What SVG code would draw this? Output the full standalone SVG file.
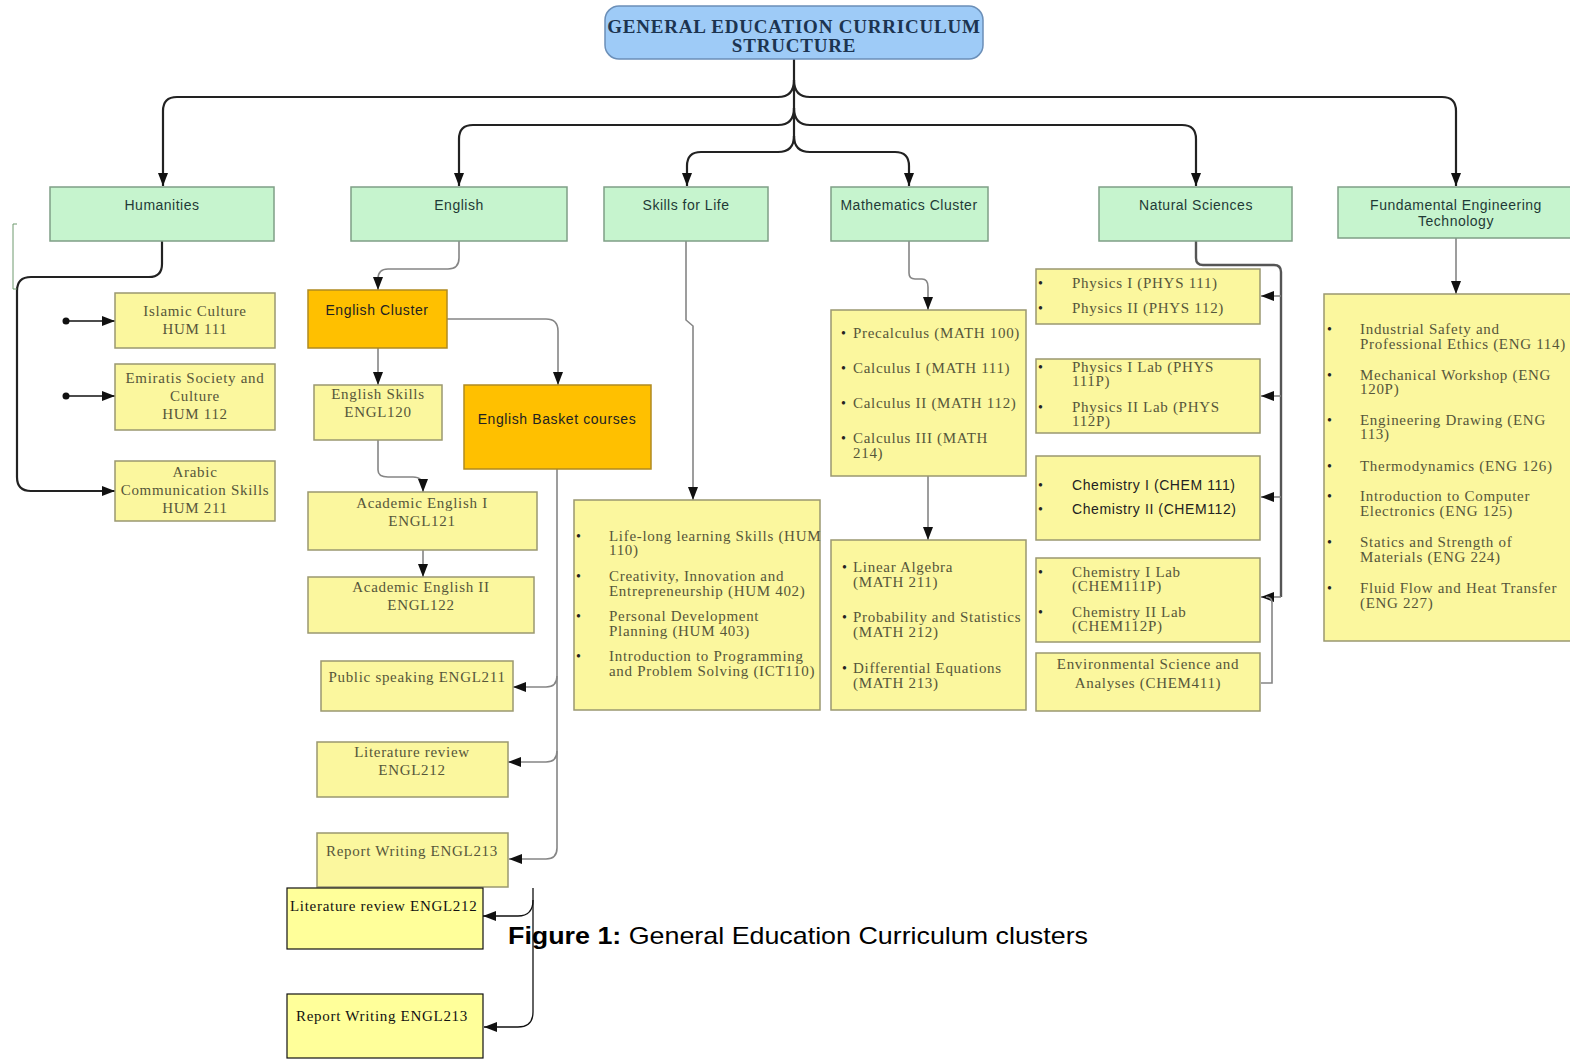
<svg xmlns="http://www.w3.org/2000/svg" width="1570" height="1059" viewBox="0 0 1570 1059">
<defs>
<marker id="ah" viewBox="0 0 13 10" refX="13" refY="5" markerWidth="13" markerHeight="10" markerUnits="userSpaceOnUse" orient="auto"><path d="M0,0 L13,5 L0,10 z" fill="#111"/></marker>
<marker id="dot" viewBox="0 0 8 8" refX="4" refY="4" markerWidth="8" markerHeight="8" markerUnits="userSpaceOnUse"><circle cx="4" cy="4" r="3.5" fill="#111"/></marker>
<style>
.grn{fill:#c6f4ce;stroke:#7f9f86;stroke-width:1.5}
.yel{fill:#fbf79e;stroke:#9a9870;stroke-width:1.5}
.yelk{fill:#ffff9a;stroke:#111;stroke-width:1.2}
.org{fill:#ffc000;stroke:#b08a20;stroke-width:1.5}
.hd{font-family:"Liberation Sans",Arial,sans-serif;font-size:14px;letter-spacing:0.5px;fill:#1f3a36;text-anchor:middle}
.sr{font-family:"Liberation Serif","Times New Roman",serif;font-size:15px;letter-spacing:0.7px;fill:#56563a}
.src{font-family:"Liberation Serif","Times New Roman",serif;font-size:15px;letter-spacing:0.7px;fill:#56563a;text-anchor:middle}
.srk{font-family:"Liberation Serif","Times New Roman",serif;font-size:15px;letter-spacing:0.7px;fill:#111}
.ss{font-family:"Liberation Sans",Arial,sans-serif;font-size:14px;letter-spacing:0.6px;fill:#222}
.bl{font-family:"Liberation Serif",serif;font-size:14px;fill:#222}
.k{fill:none;stroke:#222;stroke-width:2.2}
.g{fill:none;stroke:#858585;stroke-width:1.6}
.kt{fill:none;stroke:#111;stroke-width:1.3}
</style>
</defs>
<rect width="1570" height="1059" fill="#fff"/>

<g id="connectors">
<path class="k" d="M794,59 V140"/>
<path class="k" d="M794,80 Q794,97 778,97 H177 Q163,97 163,111 V186" marker-end="url(#ah)"/>
<path class="k" d="M794,80 Q794,97 810,97 H1442 Q1456,97 1456,111 V186" marker-end="url(#ah)"/>
<path class="k" d="M794,108 Q794,125 778,125 H473 Q459,125 459,139 V186" marker-end="url(#ah)"/>
<path class="k" d="M794,108 Q794,125 810,125 H1182 Q1196,125 1196,139 V186" marker-end="url(#ah)"/>
<path class="k" d="M794,136 Q794,152 778,152 H701 Q687,152 687,166 V186" marker-end="url(#ah)"/>
<path class="k" d="M794,136 Q794,152 810,152 H895 Q909,152 909,166 V186" marker-end="url(#ah)"/>
<!-- humanities -->
<path class="k" d="M162,241 V264 Q162,277 149,277 H31 Q17,277 17,291 V477 Q17,491 31,491 H115" marker-end="url(#ah)"/>
<path class="kt" d="M66,321 H115" marker-start="url(#dot)" marker-end="url(#ah)"/>
<path class="kt" d="M66,396 H115" marker-start="url(#dot)" marker-end="url(#ah)"/>
<path d="M13,224 V289 H17 M13,224 H17" fill="none" stroke="#6f9a6f" stroke-width="1"/>
<!-- english -->
<path class="g" d="M459,241 V258 Q459,269 448,269 H388 Q378,269 378,279 V290" marker-end="url(#ah)"/>
<path class="g" d="M378,348 V385" marker-end="url(#ah)"/>
<path class="g" d="M447,319 H546 Q558,319 558,331 V385" marker-end="url(#ah)"/>
<path class="g" d="M378,440 V470 Q378,477 388,477 H413 Q423,477 423,487 V492" marker-end="url(#ah)"/>
<path class="g" d="M423,550 V577" marker-end="url(#ah)"/>
<path class="g" d="M557,469 V848 Q557,859 546,859 H509" marker-end="url(#ah)"/>
<path class="g" d="M557,676 Q557,687 546,687 H513" marker-end="url(#ah)"/>
<path class="g" d="M557,751 Q557,762 546,762 H508" marker-end="url(#ah)"/>
<path class="kt" d="M533,888 V1012 Q533,1027 518,1027 H484" marker-end="url(#ah)"/>
<path class="kt" d="M533,900 Q533,916 518,916 H483" marker-end="url(#ah)"/>
<!-- skills -->
<path class="g" d="M686,241 V320 L693,326 V500" marker-end="url(#ah)"/>
<!-- math -->
<path class="g" d="M909,241 V273 Q909,279 915,279 H922 Q928,279 928,287 V310" marker-end="url(#ah)"/>
<path class="g" d="M928,476 V540" marker-end="url(#ah)"/>
<!-- natural sciences -->
<path d="M1196,241 V258 Q1196,265 1203,265 H1274 Q1281,265 1281,272 V597" fill="none" stroke="#555" stroke-width="2.4"/>
<path class="g" d="M1281,296 H1261" marker-end="url(#ah)"/>
<path class="g" d="M1281,396 H1261" marker-end="url(#ah)"/>
<path class="g" d="M1281,497 H1261" marker-end="url(#ah)"/>
<path class="g" d="M1281,597 H1261" marker-end="url(#ah)"/>
<path class="g" d="M1261,683 H1272 V603 Q1272,597 1266,597"/>
<!-- fet -->
<path class="g" d="M1456,238 V294" marker-end="url(#ah)"/>
</g>

<g id="title">
<rect x="605" y="6" width="378" height="53" rx="14" fill="#9ecbf7" stroke="#6b8fb8" stroke-width="1.5"/>
<text x="794" y="33" text-anchor="middle" font-family="Liberation Serif,serif" font-weight="bold" font-size="19" letter-spacing="0.8" fill="#1c3450">GENERAL EDUCATION CURRICULUM</text>
<text x="794" y="52" text-anchor="middle" font-family="Liberation Serif,serif" font-weight="bold" font-size="19" letter-spacing="0.8" fill="#1c3450">STRUCTURE</text>
</g>

<g id="humanities"><rect class="grn" x="50" y="187" width="224" height="54"/><text class="hd" x="162" y="210">Humanities</text></g>
<g id="english"><rect class="grn" x="351" y="187" width="216" height="54"/><text class="hd" x="459" y="210">English</text></g>
<g id="skills"><rect class="grn" x="604" y="187" width="164" height="54"/><text class="hd" x="686" y="210">Skills for Life</text></g>
<g id="math"><rect class="grn" x="831" y="187" width="157" height="54"/><text class="hd" x="909" y="210">Mathematics Cluster</text></g>
<g id="natsci"><rect class="grn" x="1099" y="187" width="193" height="54"/><text class="hd" x="1196" y="210">Natural Sciences</text></g>
<g id="fet"><rect class="grn" x="1338" y="187" width="240" height="51"/><text class="hd" x="1456" y="210">Fundamental Engineering</text><text class="hd" x="1456" y="226">Technology</text></g>

<g id="hum111"><rect class="yel" x="115" y="293" width="160" height="55"/><text class="src" x="195" y="316">Islamic Culture</text><text class="src" x="195" y="334">HUM 111</text></g>
<g id="hum112"><rect class="yel" x="115" y="364" width="160" height="66"/><text class="src" x="195" y="383">Emiratis Society and</text><text class="src" x="195" y="401">Culture</text><text class="src" x="195" y="419">HUM 112</text></g>
<g id="hum211"><rect class="yel" x="115" y="461" width="160" height="60"/><text class="src" x="195" y="477">Arabic</text><text class="src" x="195" y="495">Communication Skills</text><text class="src" x="195" y="513">HUM 211</text></g>

<g id="englishCluster"><rect class="org" x="308" y="290" width="139" height="58"/><text class="ss" x="377" y="315" text-anchor="middle" fill="#3a2a00">English Cluster</text></g>
<g id="engl120"><rect class="yel" x="314" y="385" width="128" height="55"/><text class="src" x="378" y="399">English Skills</text><text class="src" x="378" y="417">ENGL120</text></g>
<g id="basket"><rect class="org" x="464" y="385" width="187" height="84"/><text class="ss" x="557" y="424" text-anchor="middle" fill="#3a2a00">English Basket courses</text></g>
<g id="engl121"><rect class="yel" x="308" y="492" width="229" height="58"/><text class="src" x="422" y="508">Academic English I</text><text class="src" x="422" y="526">ENGL121</text></g>
<g id="engl122"><rect class="yel" x="308" y="577" width="226" height="56"/><text class="src" x="421" y="592">Academic English II</text><text class="src" x="421" y="610">ENGL122</text></g>
<g id="engl211"><rect class="yel" x="321" y="661" width="192" height="50"/><text class="src" x="417" y="682">Public speaking ENGL211</text></g>
<g id="engl212"><rect class="yel" x="317" y="742" width="191" height="55"/><text class="src" x="412" y="757">Literature review</text><text class="src" x="412" y="775">ENGL212</text></g>
<g id="engl213"><rect class="yel" x="317" y="833" width="191" height="54"/><text class="src" x="412" y="856">Report Writing ENGL213</text></g>
<g id="engl212b"><rect class="yelk" x="287" y="888" width="196" height="61"/><text class="srk" x="290" y="911">Literature review ENGL212</text></g>
<g id="engl213b"><rect class="yelk" x="287" y="994" width="196" height="64"/><text class="srk" x="296" y="1021">Report Writing ENGL213</text></g>

<g id="skillsList"><rect class="yel" x="574" y="500" width="246" height="210"/>
<g class="bl"><text x="576" y="541">•</text><text x="576" y="581">•</text><text x="576" y="621">•</text><text x="576" y="661">•</text></g>
<text class="sr" x="609" y="541">Life-long learning Skills (HUM</text><text class="sr" x="609" y="555">110)</text>
<text class="sr" x="609" y="581">Creativity, Innovation and</text><text class="sr" x="609" y="596">Entrepreneurship (HUM 402)</text>
<text class="sr" x="609" y="621">Personal Development</text><text class="sr" x="609" y="636">Planning (HUM 403)</text>
<text class="sr" x="609" y="661">Introduction to Programming</text><text class="sr" x="609" y="676">and Problem Solving (ICT110)</text>
</g>

<g id="math1"><rect class="yel" x="831" y="310" width="195" height="166"/>
<g class="bl"><text x="841" y="338">•</text><text x="841" y="373">•</text><text x="841" y="408">•</text><text x="841" y="443">•</text><text x="841" y="572">•</text><text x="841" y="622">•</text><text x="841" y="673">•</text></g>
<text class="sr" x="853" y="338">Precalculus (MATH 100)</text>
<text class="sr" x="853" y="373">Calculus I (MATH 111)</text>
<text class="sr" x="853" y="408">Calculus II (MATH 112)</text>
<text class="sr" x="853" y="443">Calculus III (MATH</text><text class="sr" x="853" y="458">214)</text>
</g>
<g id="math2"><rect class="yel" x="831" y="540" width="195" height="170"/>
<g class="bl"><text x="842" y="572">•</text><text x="842" y="622">•</text><text x="842" y="673">•</text></g>
<text class="sr" x="853" y="572">Linear Algebra</text><text class="sr" x="853" y="587">(MATH 211)</text>
<text class="sr" x="853" y="622">Probability and Statistics</text><text class="sr" x="853" y="637">(MATH 212)</text>
<text class="sr" x="853" y="673">Differential Equations</text><text class="sr" x="853" y="688">(MATH 213)</text>
</g>

<g id="phys"><rect class="yel" x="1036" y="269" width="224" height="55"/>
<g class="bl"><text x="1038" y="288">•</text><text x="1038" y="313">•</text></g>
<text class="sr" x="1072" y="288">Physics I (PHYS 111)</text><text class="sr" x="1072" y="313">Physics II (PHYS 112)</text></g>
<g id="physlab"><rect class="yel" x="1036" y="359" width="224" height="74"/>
<g class="bl"><text x="1038" y="372">•</text><text x="1038" y="412">•</text></g>
<text class="sr" x="1072" y="372">Physics I Lab (PHYS</text><text class="sr" x="1072" y="386">111P)</text>
<text class="sr" x="1072" y="412">Physics II Lab (PHYS</text><text class="sr" x="1072" y="426">112P)</text></g>
<g id="chem"><rect class="yel" x="1036" y="456" width="224" height="84"/>
<g class="bl"><text x="1038" y="490">•</text><text x="1038" y="514">•</text></g>
<text class="ss" x="1072" y="490">Chemistry I (CHEM 111)</text><text class="ss" x="1072" y="514">Chemistry II (CHEM112)</text></g>
<g id="chemlab"><rect class="yel" x="1036" y="558" width="224" height="84"/>
<g class="bl"><text x="1038" y="577">•</text><text x="1038" y="617">•</text></g>
<text class="sr" x="1072" y="577">Chemistry I Lab</text><text class="sr" x="1072" y="591">(CHEM111P)</text>
<text class="sr" x="1072" y="617">Chemistry II Lab</text><text class="sr" x="1072" y="631">(CHEM112P)</text></g>
<g id="env"><rect class="yel" x="1036" y="653" width="224" height="58"/>
<text class="src" x="1148" y="669">Environmental Science and</text><text class="src" x="1148" y="688">Analyses (CHEM411)</text></g>

<g id="fetList"><rect class="yel" x="1324" y="294" width="256" height="347"/>
<g class="bl"><text x="1327" y="334">•</text><text x="1327" y="380">•</text><text x="1327" y="425">•</text><text x="1327" y="471">•</text><text x="1327" y="501">•</text><text x="1327" y="547">•</text><text x="1327" y="593">•</text></g>
<text class="sr" x="1360" y="334">Industrial Safety and</text><text class="sr" x="1360" y="349">Professional Ethics (ENG 114)</text>
<text class="sr" x="1360" y="380">Mechanical Workshop (ENG</text><text class="sr" x="1360" y="394">120P)</text>
<text class="sr" x="1360" y="425">Engineering Drawing (ENG</text><text class="sr" x="1360" y="439">113)</text>
<text class="sr" x="1360" y="471">Thermodynamics (ENG 126)</text>
<text class="sr" x="1360" y="501">Introduction to Computer</text><text class="sr" x="1360" y="516">Electronics (ENG 125)</text>
<text class="sr" x="1360" y="547">Statics and Strength of</text><text class="sr" x="1360" y="562">Materials (ENG 224)</text>
<text class="sr" x="1360" y="593">Fluid Flow and Heat Transfer</text><text class="sr" x="1360" y="608">(ENG 227)</text>
</g>

<text x="508" y="944" font-family="Liberation Sans,Arial,sans-serif" font-size="24" textLength="580" lengthAdjust="spacingAndGlyphs" fill="#000"><tspan font-weight="bold">Figure 1:</tspan>  General Education Curriculum clusters</text>
</svg>
